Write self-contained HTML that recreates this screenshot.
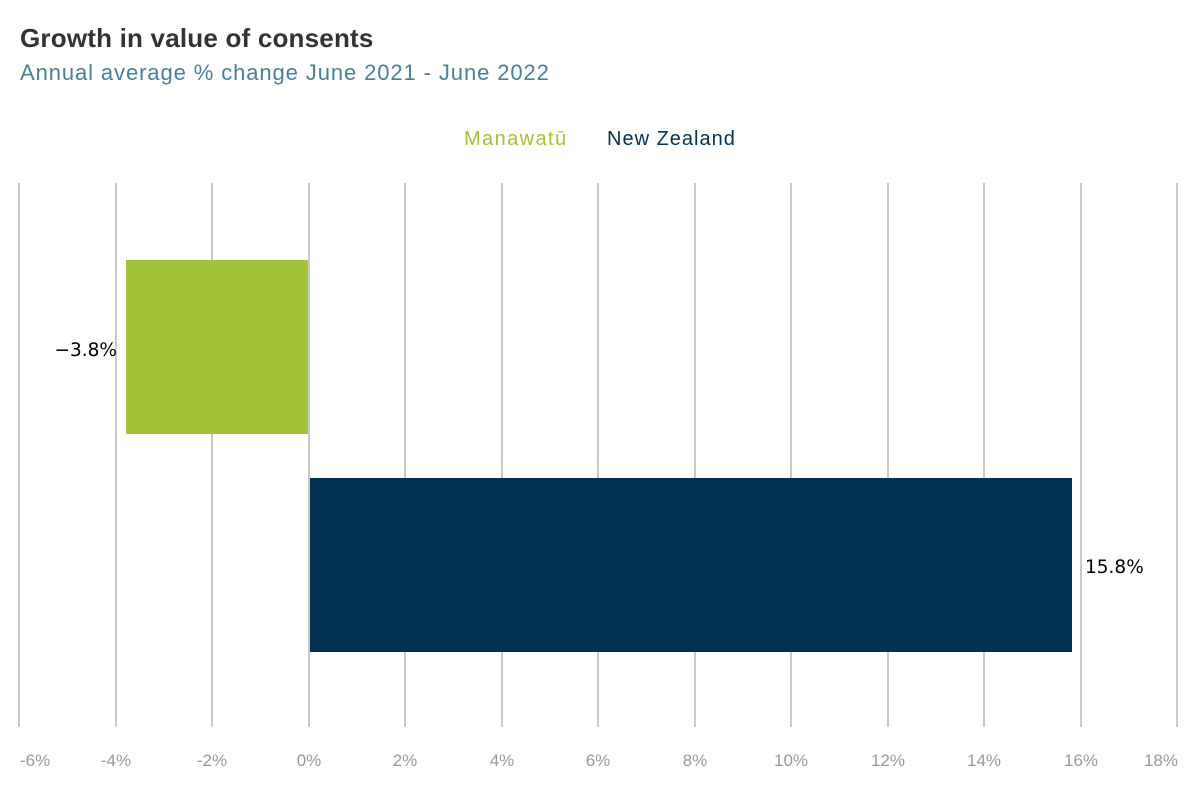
<!DOCTYPE html>
<html><head><meta charset="utf-8"><style>
body{margin:0;width:1200px;height:800px;background:#fff;font-family:"Liberation Sans",sans-serif;position:relative;overflow:hidden}
.t{position:absolute;white-space:nowrap}
</style></head><body>
<div class="t" style="left:20px;top:23px;font-size:26px;color:#333;font-weight:bold;letter-spacing:0.2px">Growth in value of consents</div>
<div class="t" style="left:20px;top:60px;font-size:22px;color:#4a7f9c;letter-spacing:0.9px">Annual average % change June 2021 - June 2022</div>
<div class="t" style="left:464px;top:128px;font-size:20px;color:#a2c237;letter-spacing:1.4px">Manawatū</div>
<div class="t" style="left:607px;top:128px;font-size:20px;color:#003251;letter-spacing:1px">New Zealand</div>
<svg width="1200" height="800" style="position:absolute;left:0;top:0">
<g stroke="#c8c8c8" stroke-width="2">
<line x1="19" y1="183" x2="19" y2="727"/><line x1="116" y1="183" x2="116" y2="727"/><line x1="212" y1="183" x2="212" y2="727"/><line x1="309" y1="183" x2="309" y2="727"/><line x1="405" y1="183" x2="405" y2="727"/><line x1="502" y1="183" x2="502" y2="727"/><line x1="598" y1="183" x2="598" y2="727"/><line x1="695" y1="183" x2="695" y2="727"/><line x1="791" y1="183" x2="791" y2="727"/><line x1="888" y1="183" x2="888" y2="727"/><line x1="984" y1="183" x2="984" y2="727"/><line x1="1081" y1="183" x2="1081" y2="727"/><line x1="1177" y1="183" x2="1177" y2="727"/>
</g>
<rect x="126" y="260" width="182" height="174" fill="#a2c237"/>
<rect x="310" y="478" width="762" height="174" fill="#003251"/>
<g font-family="DejaVu Sans,sans-serif" font-size="18.5" fill="#000">
<text x="117" y="356" text-anchor="end">−3.8%</text>
<text x="1085" y="573">15.8%</text>
</g>
<g font-family="Liberation Sans,sans-serif" font-size="17" fill="#999" text-anchor="middle">
<text x="20" y="766" text-anchor="start">-6%</text><text x="116" y="766">-4%</text><text x="212" y="766">-2%</text><text x="309" y="766">0%</text><text x="405" y="766">2%</text><text x="502" y="766">4%</text><text x="598" y="766">6%</text><text x="695" y="766">8%</text><text x="791" y="766">10%</text><text x="888" y="766">12%</text><text x="984" y="766">14%</text><text x="1081" y="766">16%</text><text x="1178" y="766" text-anchor="end">18%</text>
</g>
</svg>
</body></html>
